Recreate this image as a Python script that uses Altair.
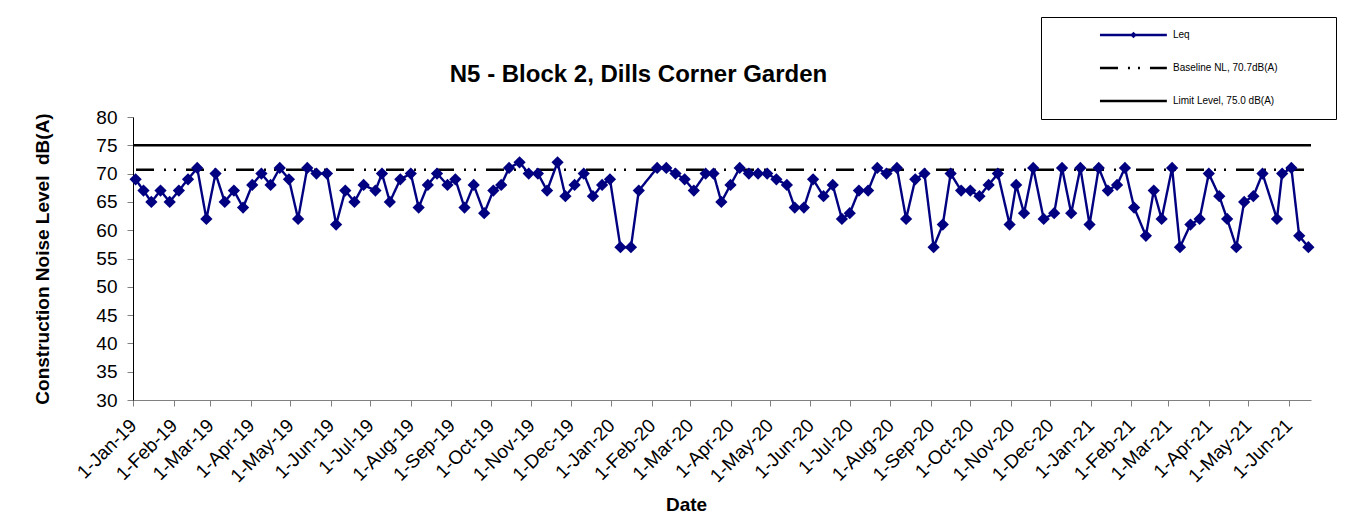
import altair as alt
import pandas as pd

# ---------------- data ----------------
dates = [
    "2019-01-03", "2019-01-09", "2019-01-15", "2019-01-22", "2019-01-29", "2019-02-05", "2019-02-12", "2019-02-19", "2019-02-26", "2019-03-05",
    "2019-03-12", "2019-03-19", "2019-03-26", "2019-04-02", "2019-04-09", "2019-04-16", "2019-04-23", "2019-04-30", "2019-05-07", "2019-05-14",
    "2019-05-21", "2019-05-29", "2019-06-05", "2019-06-12", "2019-06-19", "2019-06-26", "2019-07-05", "2019-07-10", "2019-07-16", "2019-07-24",
    "2019-08-01", "2019-08-07", "2019-08-14", "2019-08-21", "2019-08-29", "2019-09-04", "2019-09-11", "2019-09-18", "2019-09-26", "2019-10-03",
    "2019-10-09", "2019-10-15", "2019-10-23", "2019-10-30", "2019-11-06", "2019-11-13", "2019-11-21", "2019-11-27", "2019-12-04", "2019-12-11",
    "2019-12-18", "2019-12-25", "2019-12-31", "2020-01-08", "2020-01-16", "2020-01-22", "2020-02-05", "2020-02-12", "2020-02-19", "2020-02-26",
    "2020-03-04", "2020-03-13", "2020-03-19", "2020-03-25", "2020-04-01", "2020-04-08", "2020-04-15", "2020-04-22", "2020-04-29", "2020-05-06",
    "2020-05-14", "2020-05-20", "2020-05-27", "2020-06-03", "2020-06-11", "2020-06-18", "2020-06-25", "2020-07-01", "2020-07-08", "2020-07-15",
    "2020-07-22", "2020-07-29", "2020-08-06", "2020-08-13", "2020-08-20", "2020-08-27", "2020-09-03", "2020-09-10", "2020-09-16", "2020-09-24",
    "2020-10-01", "2020-10-08", "2020-10-15", "2020-10-22", "2020-10-31", "2020-11-05", "2020-11-11", "2020-11-18", "2020-11-26", "2020-12-04",
    "2020-12-10", "2020-12-17", "2020-12-24", "2020-12-31", "2021-01-07", "2021-01-14", "2021-01-21", "2021-01-27", "2021-02-03", "2021-02-12",
    "2021-02-18", "2021-02-24", "2021-03-04", "2021-03-10", "2021-03-18", "2021-03-25", "2021-04-01", "2021-04-09", "2021-04-15", "2021-04-22",
    "2021-04-28", "2021-05-05", "2021-05-12", "2021-05-23", "2021-05-27", "2021-06-03", "2021-06-09", "2021-06-16",
]
leq = [
    69, 67, 65, 67, 65, 67, 69, 71, 62, 70,
    65, 67, 64, 68, 70, 68, 71, 69, 62, 71,
    70, 70, 61, 67, 65, 68, 67, 70, 65, 69,
    70, 64, 68, 70, 68, 69, 64, 68, 63, 67,
    68, 71, 72, 70, 70, 67, 72, 66, 68, 70,
    66, 68, 69, 57, 57, 67, 71, 71, 70, 69,
    67, 70, 70, 65, 68, 71, 70, 70, 70, 69,
    68, 64, 64, 69, 66, 68, 62, 63, 67, 67,
    71, 70, 71, 62, 69, 70, 57, 61, 70, 67,
    67, 66, 68, 70, 61, 68, 63, 71, 62, 63,
    71, 63, 71, 61, 71, 67, 68, 71, 64, 59,
    67, 62, 71, 57, 61, 62, 70, 66, 62, 57,
    65, 66, 70, 62, 70, 71, 59, 57,
]
series_names = ["Leq", "Baseline NL, 70.7dB(A)", "Limit Level, 75.0 dB(A)"]
baseline_level = 70.7
limit_level = 75.0
x_start = "2019-01-01"
x_end = "2021-06-18"
y_ticks = [30, 35, 40, 45, 50, 55, 60, 65, 70, 75, 80]
tick_years_months = [(2019, m) for m in range(1, 13)] + [(2020, m) for m in range(1, 13)] + [(2021, m) for m in range(1, 7)]

title_text = "N5 - Block 2, Dills Corner Garden"
y_title = "Construction Noise Level\u00a0 dB(A)"
x_title = "Date"

# ---------------- tables ----------------
leq_df = pd.DataFrame({"date": dates, "level": leq, "series": series_names[0], "marker": "Leq"})
ref_df = pd.DataFrame({
    "date": [x_start, x_end, x_start, x_end],
    "level": [baseline_level, baseline_level, limit_level, limit_level],
    "series": [series_names[1], series_names[1], series_names[2], series_names[2]],
})

FONT = "Liberation Sans"
NAVY = "#000080"


def dt(y, m, d):
    return alt.DateTime(year=y, month=m, date=d, utc=True)


x_enc = alt.X(
    "date:T",
    scale=alt.Scale(type="utc", domain=[dt(2019, 1, 1), dt(2021, 6, 18)]),
    axis=alt.Axis(
        values=[dt(y, m, 1) for (y, m) in tick_years_months],
        format="%-d-%b-%y",
        labelAngle=315,
        labelAlign="right",
        labelBaseline="middle",
        labelFont=FONT,
        labelFontSize=19,
        labelColor="black",
        labelPadding=16,
        labelOverlap=False,
        labelFlush=False,
        tickSize=6,
        tickColor="#808080",
        domainColor="#808080",
        grid=False,
        title=x_title,
        titleFont=FONT,
        titleFontSize=19,
        titleFontWeight="bold",
        titleColor="black",
        titleX=553,
        titleY=104,
        titleAlign="center",
        titleBaseline="middle",
    ),
)
y_enc = alt.Y(
    "level:Q",
    scale=alt.Scale(domain=[30, 80], nice=False, zero=False),
    axis=alt.Axis(
        values=y_ticks,
        labelFont=FONT,
        labelFontSize=19,
        labelColor="black",
        labelPadding=10,
        tickSize=6,
        tickColor="#808080",
        domainColor="black",
        grid=False,
        title=y_title,
        titleFont=FONT,
        titleFontSize=19,
        titleFontWeight="bold",
        titleColor="black",
        titleX=-91,
        titleY=141.5,
        titleAngle=270,
        titleAlign="center",
        titleBaseline="middle",
    ),
)

leg_main = alt.Legend(
    title="-",
    titleOrient="right",
    titleOpacity=0,
    titleFontSize=10,
    titlePadding=42,
    orient="none",
    legendX=908,
    legendY=-100,
    direction="vertical",
    padding=12,
    strokeColor="black",
    fillColor="white",
    symbolType="M-0.18,0L1.02,0",
    symbolSize=12432,
    symbolStrokeWidth=2.5,
    clipHeight=12,
    rowPadding=21,
    labelOffset=6,
    labelFont=FONT,
    labelFontSize=10,
    labelColor="black",
    labelLimit=400,
)
color_enc = alt.Color(
    "series:N",
    scale=alt.Scale(domain=series_names, range=[NAVY, "black", "black"]),
    legend=leg_main,
)
dash_enc = alt.StrokeDash(
    "series:N",
    scale=alt.Scale(domain=series_names, range=[[1, 0], [18, 10, 2, 8, 2, 10], [1, 0]]),
    legend=leg_main,
)

ref_lines = alt.Chart(ref_df).mark_line(strokeWidth=2.5, strokeDashOffset=47).encode(
    x=x_enc, y=y_enc, color=color_enc, strokeDash=dash_enc, detail="series:N"
)
leq_line = alt.Chart(leq_df).mark_line(strokeWidth=2.4).encode(
    x=x_enc, y=y_enc, color=color_enc, strokeDash=dash_enc
)
leg_dia = alt.Legend(
    title=None,
    orient="none",
    legendX=997,
    legendY=-87,
    padding=0,
    symbolSize=40,
    symbolFillColor=NAVY,
    symbolStrokeColor=NAVY,
    symbolStrokeWidth=0,
    clipHeight=10,
    labelOpacity=0,
    labelFontSize=6,
)
leq_pts = alt.Chart(leq_df).mark_point(filled=True, size=150, color=NAVY, opacity=1).encode(
    x=x_enc,
    y=y_enc,
    shape=alt.Shape("marker:N", scale=alt.Scale(domain=["Leq"], range=["diamond"]), legend=leg_dia),
)

chart = (
    alt.layer(ref_lines, leq_line, leq_pts)
    .properties(
        width=1178,
        height=283,
        title=alt.Title(
            text=title_text,
            font=FONT,
            fontSize=24,
            fontWeight="bold",
            color="black",
            anchor="middle",
            dx=-83.5,
            dy=114,
            offset=32,
            baseline="middle",
        ),
        autosize=alt.AutoSizeParams(type="none"),
        padding={"left": 125, "top": 109, "right": 35, "bottom": 116},
        background="white",
    )
    .configure_view(stroke="transparent")
)

chart.save("out.html", embed_options={"renderer": "svg", "actions": False})
